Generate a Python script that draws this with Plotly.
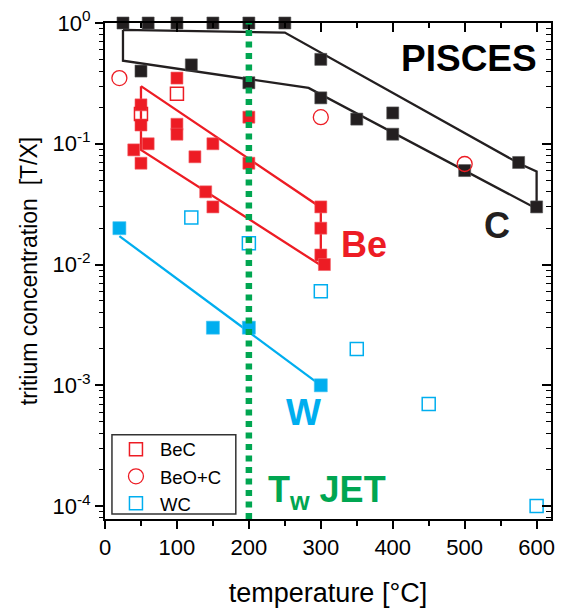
import plotly.graph_objects as go

# ---- data ----
# C (PISCES carbon) filled squares
c_x = [25, 60, 100, 150, 200, 250, 50, 120, 200, 300, 300, 350, 400, 400, 500, 575, 600]
c_y = [1.0, 1.0, 1.0, 1.0, 1.0, 1.0, 0.40, 0.45, 0.32, 0.50, 0.24, 0.16, 0.18, 0.12, 0.06, 0.07, 0.03]
# C band outline
c_band_x = [25, 250, 577, 600, 600, 283, 25, 25]
c_band_y = [0.876, 0.833, 0.068, 0.059, 0.029, 0.29, 0.487, 0.876]

# Be filled squares
be_x = [100, 50, 50, 100, 100, 60, 40, 50, 125, 150, 200, 200, 140, 150, 300, 300, 300, 305]
be_y = [0.35, 0.21, 0.143, 0.145, 0.12, 0.10, 0.089, 0.069, 0.078, 0.10, 0.166, 0.069, 0.04, 0.03, 0.03, 0.02, 0.012, 0.01]
be_band_x = [50, 300, 300, 50, 50]
be_band_y = [0.30, 0.0297, 0.00985, 0.089, 0.30]

# W filled squares
w_x = [20, 150, 200, 300]
w_y = [0.02, 0.003, 0.003, 0.001]
w_line_x = [20, 300]
w_line_y = [0.0172, 0.001]

# open symbols
bec_x = [50, 100]
bec_y = [0.176, 0.26]
beoc_x = [20, 300, 500]
beoc_y = [0.35, 0.166, 0.068]
wc_x = [120, 200, 300, 350, 450, 600]
wc_y = [0.0245, 0.015, 0.006, 0.002, 0.0007, 0.0001]

jet_T = 200

x_ticks = [0, 100, 200, 300, 400, 500, 600]
x_minor = [50, 150, 250, 350, 450, 550]
y_ticks = [1, 0.1, 0.01, 0.001, 0.0001]
y_ticktext = ["10<sup>0</sup>", "10<sup>-1</sup>", "10<sup>-2</sup>", "10<sup>-3</sup>", "10<sup>-4</sup>"]
y_minor = [m * 10.0 ** e for e in range(-5, 0) for m in range(2, 10)]

BLACK = "#231F20"
RED = "#ED1C24"
BLUE = "#00AEEF"
GREEN = "#00A651"

XR = [0, 620]
YR = [-4.107, 0.0]

fig = go.Figure()

fig.add_trace(go.Scatter(x=c_band_x, y=c_band_y, mode="lines",
                         line=dict(color=BLACK, width=2.3), showlegend=False, hoverinfo="skip"))
fig.add_trace(go.Scatter(x=be_band_x, y=be_band_y, mode="lines",
                         line=dict(color=RED, width=2.3), showlegend=False, hoverinfo="skip"))
fig.add_trace(go.Scatter(x=w_line_x, y=w_line_y, mode="lines",
                         line=dict(color=BLUE, width=2.3), showlegend=False, hoverinfo="skip"))

fig.add_trace(go.Scatter(x=c_x, y=c_y, mode="markers", showlegend=False,
                         marker=dict(symbol="square", size=12, color=BLACK,
                                     line=dict(color="#555", width=0.6)), cliponaxis=False))
fig.add_trace(go.Scatter(x=be_x, y=be_y, mode="markers", showlegend=False,
                         marker=dict(symbol="square", size=12, color=RED,
                                     line=dict(color="#F26066", width=0.6))))
fig.add_trace(go.Scatter(x=w_x, y=w_y, mode="markers", showlegend=False,
                         marker=dict(symbol="square", size=13, color=BLUE,
                                     line=dict(color="#40C3F2", width=0.6))))

fig.add_trace(go.Scatter(x=bec_x, y=bec_y, mode="markers", name="BeC",
                         marker=dict(symbol="square-open", size=13, color=RED, line=dict(width=1.5))))
fig.add_trace(go.Scatter(x=beoc_x, y=beoc_y, mode="markers", name="BeO+C",
                         marker=dict(symbol="circle-open", size=15, color=RED, line=dict(width=1.3))))
fig.add_trace(go.Scatter(x=wc_x, y=wc_y, mode="markers", name="WC",
                         marker=dict(symbol="square-open", size=13, color=BLUE, line=dict(width=1.5)),
                         cliponaxis=False))

# invisible trace for mirrored (inside-tick) axes
fig.add_trace(go.Scatter(x=[300], y=[0.01], xaxis="x2", yaxis="y2", mode="markers",
                         marker=dict(opacity=0), showlegend=False, hoverinfo="skip"))

fig.add_shape(type="line", xref="x", yref="paper", x0=jet_T, x1=jet_T, y0=0, y1=1,
              line=dict(color=GREEN, width=6.5, dash="6px,5.5px"), layer="above")
# legend frame
fig.add_shape(type="rect", xref="paper", yref="paper", x0=0.0156, x1=0.2933, y0=0.01, y1=0.17,
              line=dict(color="#333", width=1.5), fillcolor="white", layer="below")

font = "Liberation Sans, Arial, sans-serif"


def label(text, x, y, size, color, xanchor="center"):
    return dict(text=text, xref="paper", yref="paper", x=x, y=y, xanchor=xanchor, yanchor="middle",
                showarrow=False, font=dict(size=size, color=color, family=font))


fig.update_layout(
    width=562, height=610,
    margin=dict(l=105, r=7, t=23, b=87),
    paper_bgcolor="white", plot_bgcolor="white",
    font=dict(family=font, color="black"),
    xaxis=dict(range=XR, showgrid=False, zeroline=False, showline=True, linecolor="black", linewidth=2,
               tickmode="array", tickvals=x_ticks, ticks="outside", ticklen=8, tickwidth=1.8,
               tickcolor="black", tickfont=dict(size=22),
               minor=dict(tickmode="array", tickvals=x_minor, ticks="outside", ticklen=5, tickwidth=1.5,
                          tickcolor="black"),
               title=dict(text="temperature [°C]", font=dict(size=27), standoff=24)),
    yaxis=dict(type="log", range=YR, showgrid=False, zeroline=False, showline=True, linecolor="black",
               linewidth=2, tickmode="array", tickvals=y_ticks, ticktext=y_ticktext, ticks="outside",
               ticklen=8, tickwidth=1.8, tickcolor="black", tickfont=dict(size=22),
               minor=dict(tickmode="array", tickvals=y_minor, ticks="outside", ticklen=4, tickwidth=1.3,
                          tickcolor="black"),
               title=dict(text="tritium concentration  [T/X]", font=dict(size=23), standoff=8)),
    xaxis2=dict(overlaying="x", side="top", range=XR, showgrid=False, zeroline=False, showline=True,
                linecolor="black", linewidth=2, tickmode="array", tickvals=x_ticks, ticks="inside",
                ticklen=9, tickwidth=1.8, tickcolor="black", showticklabels=False,
                minor=dict(tickmode="array", tickvals=x_minor, ticks="inside", ticklen=5, tickwidth=1.5,
                           tickcolor="black")),
    yaxis2=dict(overlaying="y", side="right", type="log", range=YR, showgrid=False, zeroline=False,
                showline=True, linecolor="black", linewidth=2, tickmode="array", tickvals=y_ticks,
                ticks="inside", ticklen=9, tickwidth=1.8, tickcolor="black", showticklabels=False,
                minor=dict(tickmode="array", tickvals=y_minor, ticks="inside", ticklen=5, tickwidth=1.3,
                           tickcolor="black")),
    legend=dict(x=0.0156, y=0.178, xanchor="left", yanchor="top", bgcolor="rgba(0,0,0,0)",
                borderwidth=0, font=dict(size=18.5, family=font),
                itemwidth=38, tracegroupgap=0),
    annotations=[
        label("<b>PISCES</b>", 0.8156, 0.928, 37, "black"),
        label("<b>C</b>", 0.878, 0.592, 36, BLACK),
        label("<b>Be</b>", 0.58, 0.554, 36, RED),
        label("<b>W</b>", 0.444, 0.214, 37, BLUE),
        label("<b>T<sub>w</sub> JET</b>", 0.362, 0.054, 36, GREEN, xanchor="left"),
    ],
)

fig.write_html("out.html")
